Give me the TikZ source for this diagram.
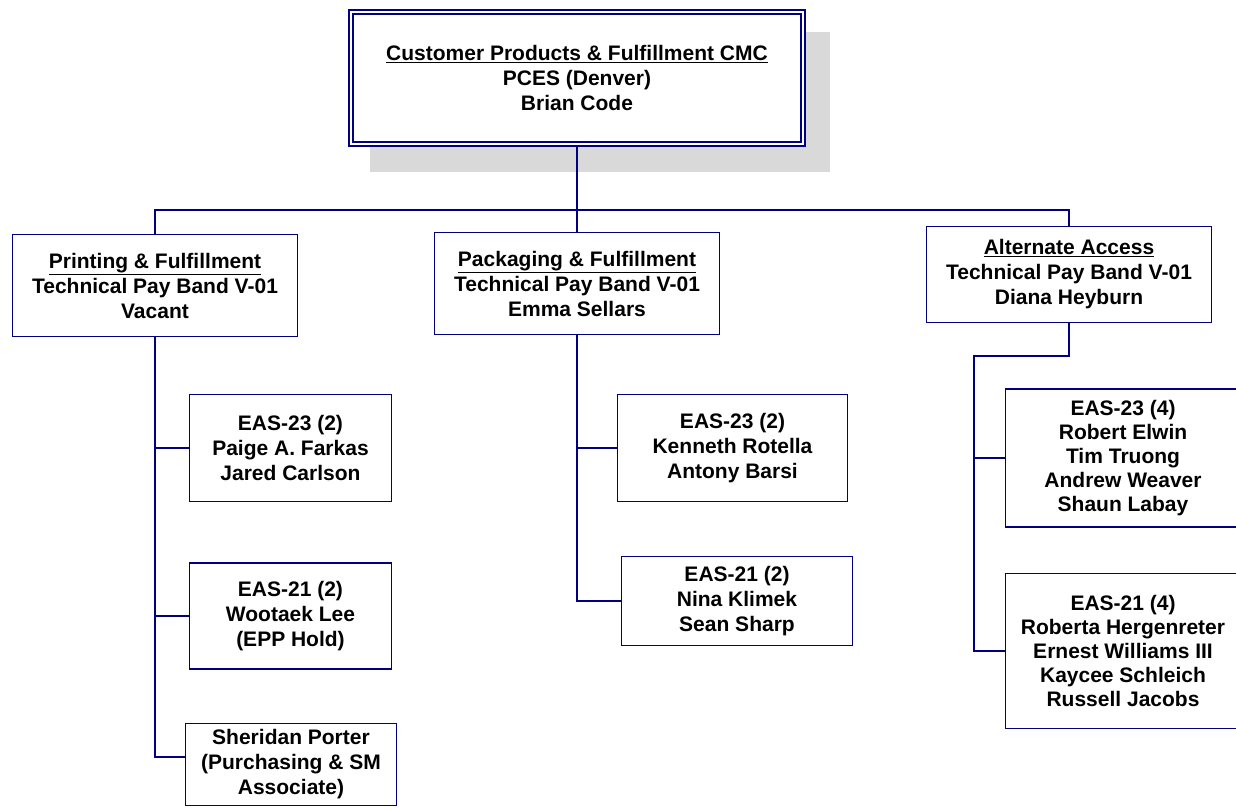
\documentclass[tikz,border=0pt]{standalone}
\usepackage{fontspec}
\setmainfont{Liberation Sans}
\definecolor{navy}{RGB}{0,0,128}
\newcommand{\orgfont}{\fontsize{21}{25}\selectfont\bfseries}
\newcommand{\orgfonttight}{\fontsize{21}{24}\selectfont\bfseries}
\tikzset{
    orgbox/.style = {draw = navy, line width = 1.6pt, fill = white, align = center,
        inner sep = 0pt, font = \orgfont},
    tallbox/.style = {orgbox, font = \orgfonttight},
    headbox/.style = {orgbox, line width = 2pt, double = white, double distance = 2pt},
    orgline/.style = {draw = navy, line width = 1.6pt}
}
\begin{document}
\begin{tikzpicture}[x = 1pt, y = -1pt]
                \clip (0, 0) rectangle (1236, 809);
                \fill [white] (0, 0) rectangle (1236, 809);

                \fill [gray!30] (370, 32) rectangle (830, 172);
                \node [headbox, minimum width = 452, minimum height = 132] (cpf) at (577, 78)
                    {\underline{Customer Products \& Fulfillment CMC}\\PCES (Denver)\\Brian Code};

                \node [orgbox, minimum width = 285, minimum height = 102] (print) at (155, 285.5)
                    {\underline{Printing \& Fulfillment}\\Technical Pay Band V-01\\Vacant};
                \node [orgbox, minimum width = 285, minimum height = 102] (pack) at (577, 283.5)
                    {\underline{Packaging \& Fulfillment}\\Technical Pay Band V-01\\Emma Sellars};
                \node [orgbox, minimum width = 285, minimum height = 96] (alt) at (1069, 274.5)
                    {\underline{Alternate Access}\\Technical Pay Band V-01\\Diana Heyburn};

                \node [orgbox, minimum width = 202, minimum height = 107] (printA) at (290.5, 448)
                    {EAS-23 (2)\\Paige A. Farkas\\Jared Carlson};
                \node [orgbox, minimum width = 202, minimum height = 106] (printB) at (290.5, 616)
                    {EAS-21 (2)\\Wootaek Lee\\(EPP Hold)};
                \node [orgbox, minimum width = 211, minimum height = 82] (printC) at (291, 764.5)
                    {Sheridan Porter\\(Purchasing \& SM\\Associate)};

                \node [orgbox, minimum width = 230, minimum height = 107] (packA) at (732.5, 448)
                    {EAS-23 (2)\\Kenneth Rotella\\Antony Barsi};
                \node [orgbox, minimum width = 231, minimum height = 89] (packB) at (737, 601)
                    {EAS-21 (2)\\Nina Klimek\\Sean Sharp};

                \node [tallbox, minimum width = 235, minimum height = 138] (altA) at (1123, 458)
                    {EAS-23 (4)\\Robert Elwin\\Tim Truong\\Andrew Weaver\\Shaun Labay};
                \node [tallbox, minimum width = 235, minimum height = 155] (altB) at (1123, 651)
                    {EAS-21 (4)\\Roberta Hergenreter\\Ernest Williams III\\Kaycee Schleich\\Russell Jacobs};

                \coordinate (bus) at (577, 210);
                \coordinate (altjog) at (974, 356);

                \draw [orgline] (cpf.south) -- (bus);
                \draw [orgline] (print.north) |- (bus) -| (alt.north);
                \draw [orgline] (bus) -- (pack.north);

                \draw [orgline] (print.south) |- (printA.west);
                \draw [orgline] (print.south) |- (printB.west);
                \draw [orgline] (print.south) |- ([yshift = 7.5pt] printC.west);

                \draw [orgline] (pack.south) |- (packA.west);
                \draw [orgline] (pack.south) |- (packB.west);

                \draw [orgline] (alt.south) |- (altjog) |- (altB.west);
                \draw [orgline] (altjog) |- (altA.west);
            \end{tikzpicture}
\end{document}
